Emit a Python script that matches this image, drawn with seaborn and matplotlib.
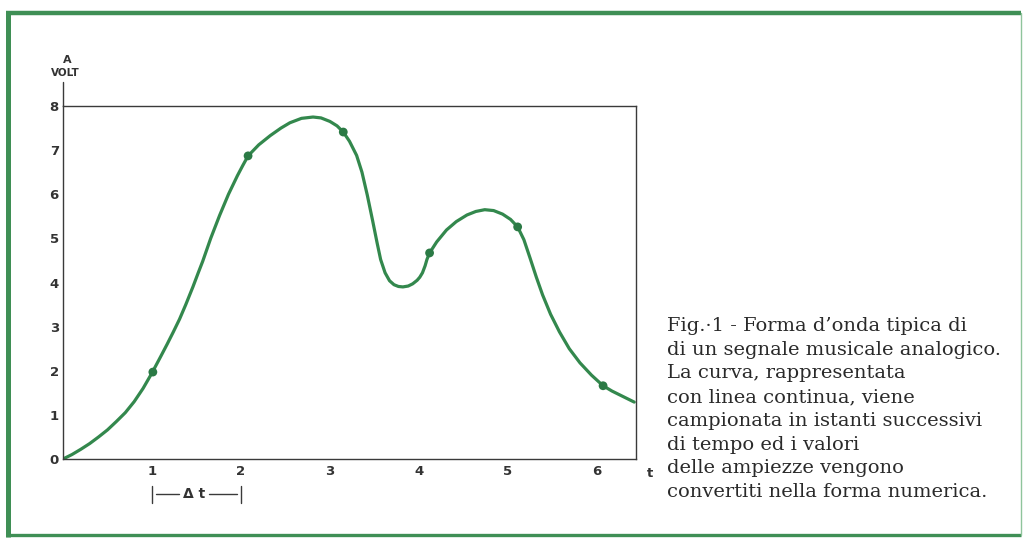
import numpy as np
import pandas as pd
import matplotlib
matplotlib.use("Agg")
import matplotlib.pyplot as plt
from matplotlib.lines import Line2D
import seaborn as sns

# curva continua
curve_t = [0.00, 0.10, 0.20, 0.30, 0.40, 0.50, 0.60, 0.70, 0.80, 0.90,
           1.00, 1.10, 1.17, 1.24, 1.31, 1.38, 1.46, 1.52, 1.57, 1.66,
           1.76, 1.86, 1.96, 2.02, 2.08, 2.20, 2.33, 2.45, 2.55, 2.68,
           2.81, 2.90, 3.00, 3.08, 3.15, 3.22, 3.30, 3.36, 3.42, 3.48,
           3.53, 3.57, 3.62, 3.67, 3.72, 3.77, 3.82, 3.88, 3.93, 3.98,
           4.01, 4.04, 4.07, 4.09, 4.12, 4.20, 4.31, 4.42, 4.54, 4.64,
           4.74, 4.84, 4.94, 5.03, 5.11, 5.18, 5.25, 5.32, 5.39, 5.48,
           5.58, 5.69, 5.81, 5.94, 6.07, 6.17, 6.26, 6.35, 6.42]
curve_v = [0.00, 0.10, 0.22, 0.35, 0.50, 0.66, 0.85, 1.05, 1.30, 1.60,
           1.95, 2.33, 2.60, 2.88, 3.17, 3.50, 3.90, 4.22, 4.48, 5.00,
           5.52, 6.00, 6.42, 6.65, 6.87, 7.12, 7.33, 7.50, 7.62, 7.72,
           7.75, 7.73, 7.65, 7.55, 7.41, 7.20, 6.88, 6.50, 5.98, 5.40,
           4.90, 4.52, 4.22, 4.04, 3.95, 3.91, 3.90, 3.92, 3.97, 4.05,
           4.12, 4.22, 4.38, 4.52, 4.67, 4.92, 5.19, 5.38, 5.53, 5.61,
           5.65, 5.63, 5.55, 5.43, 5.26, 4.97, 4.55, 4.12, 3.72, 3.28,
           2.88, 2.50, 2.18, 1.90, 1.66, 1.54, 1.45, 1.36, 1.29]

# campioni
sample_t = [1.01, 2.08, 3.15, 4.12, 5.11, 6.07]
sample_v = [1.97, 6.87, 7.41, 4.67, 5.26, 1.66]

x_ticks = [1, 2, 3, 4, 5, 6]
y_ticks = [0, 1, 2, 3, 4, 5, 6, 7, 8]

caption = [
    "Fig.\u00b71 - Forma d\u2019onda tipica di",
    "di un segnale musicale analogico.",
    "La curva, rappresentata",
    "con linea continua, viene",
    "campionata in istanti successivi",
    "di tempo ed i valori",
    "delle ampiezze vengono",
    "convertiti nella forma numerica.",
]

green = "#33884d"
dark = "#3a3a3a"

sns.set_theme(style="white")
plt.rcParams["font.family"] = ["DejaVu Sans"]

W, H = 1025, 539
fig = plt.figure(figsize=(W / 100, H / 100), dpi=100)
ax = fig.add_axes([63 / W, 80 / H, (636 - 63) / W, (459 - 106) / H])

df_curve = pd.DataFrame({"t": curve_t, "v": curve_v})
df_samp = pd.DataFrame({"t": sample_t, "v": sample_v})
sns.lineplot(data=df_curve, x="t", y="v", sort=False, color=green, lw=2.3, ax=ax)
sns.scatterplot(data=df_samp, x="t", y="v", color="#2b7a45", s=40, edgecolor="none",
                zorder=5, ax=ax)

ax.set_xlim(0, 6.44)
ax.set_ylim(0, 8)
ax.set_xticks(x_ticks)
ax.set_yticks(y_ticks)
ax.set_xticklabels([str(v) for v in x_ticks])
ax.set_yticklabels([str(v) for v in y_ticks])
ax.set_xlabel("")
ax.set_ylabel("")
for s in ax.spines.values():
    s.set_color(dark)
    s.set_linewidth(1.0)
ax.tick_params(axis="both", direction="in", length=7, width=1.0, color=dark,
               labelsize=9.5, labelcolor="#333333", pad=4)
ax.tick_params(axis="y", pad=3)
for lab in ax.get_xticklabels() + ax.get_yticklabels():
    lab.set_fontweight("bold")

# prolungamento asse y e etichette
ax.plot([0, 0], [8, 8.55], color=dark, lw=1.0, clip_on=False)
ax.text(0.05, 9.05, "A", ha="center", va="center", fontsize=8, fontweight="bold", color="#333333")
ax.text(0.03, 8.75, "VOLT", ha="center", va="center", fontsize=7.5, fontweight="bold", color="#333333")
ax.text(6.6, -0.33, "t", ha="center", va="center", fontsize=9.5, fontweight="bold", color="#333333")

# intervallo di campionamento
ax.plot([1, 1], [-0.62, -1.0], color=dark, lw=1.0, clip_on=False)
ax.plot([2, 2], [-0.62, -1.0], color=dark, lw=1.0, clip_on=False)
ax.plot([1.05, 1.3], [-0.8, -0.8], color=dark, lw=1.0, clip_on=False)
ax.plot([1.64, 1.95], [-0.8, -0.8], color=dark, lw=1.0, clip_on=False)
ax.text(1.47, -0.8, "\u0394 t", ha="center", va="center", fontsize=10, fontweight="bold", color="#333333")

# didascalia
for i, line in enumerate(caption):
    y = 326 + i * 23.7
    fig.text(667 / W, 1 - y / H, line, ha="left", va="center", fontsize=14,
             family="DejaVu Serif", color="#2a2a2a")

# cornice verde
frame = dict(color="#3f8f55", solid_capstyle="butt")
fig.add_artist(Line2D([6 / W, 1021 / W], [1 - 13 / H, 1 - 13 / H], lw=3.2, **frame))
fig.add_artist(Line2D([8 / W, 8 / W], [1 - 11 / H, 1 - 537 / H], lw=3.6, **frame))
fig.add_artist(Line2D([6 / W, 1021 / W], [1 - 535 / H, 1 - 535 / H], lw=2.4, **frame))
fig.add_artist(Line2D([1021 / W, 1021 / W], [1 - 13 / H, 1 - 535 / H], color="#8fc49c", lw=1.0))

fig.savefig("out.png", dpi=100)
